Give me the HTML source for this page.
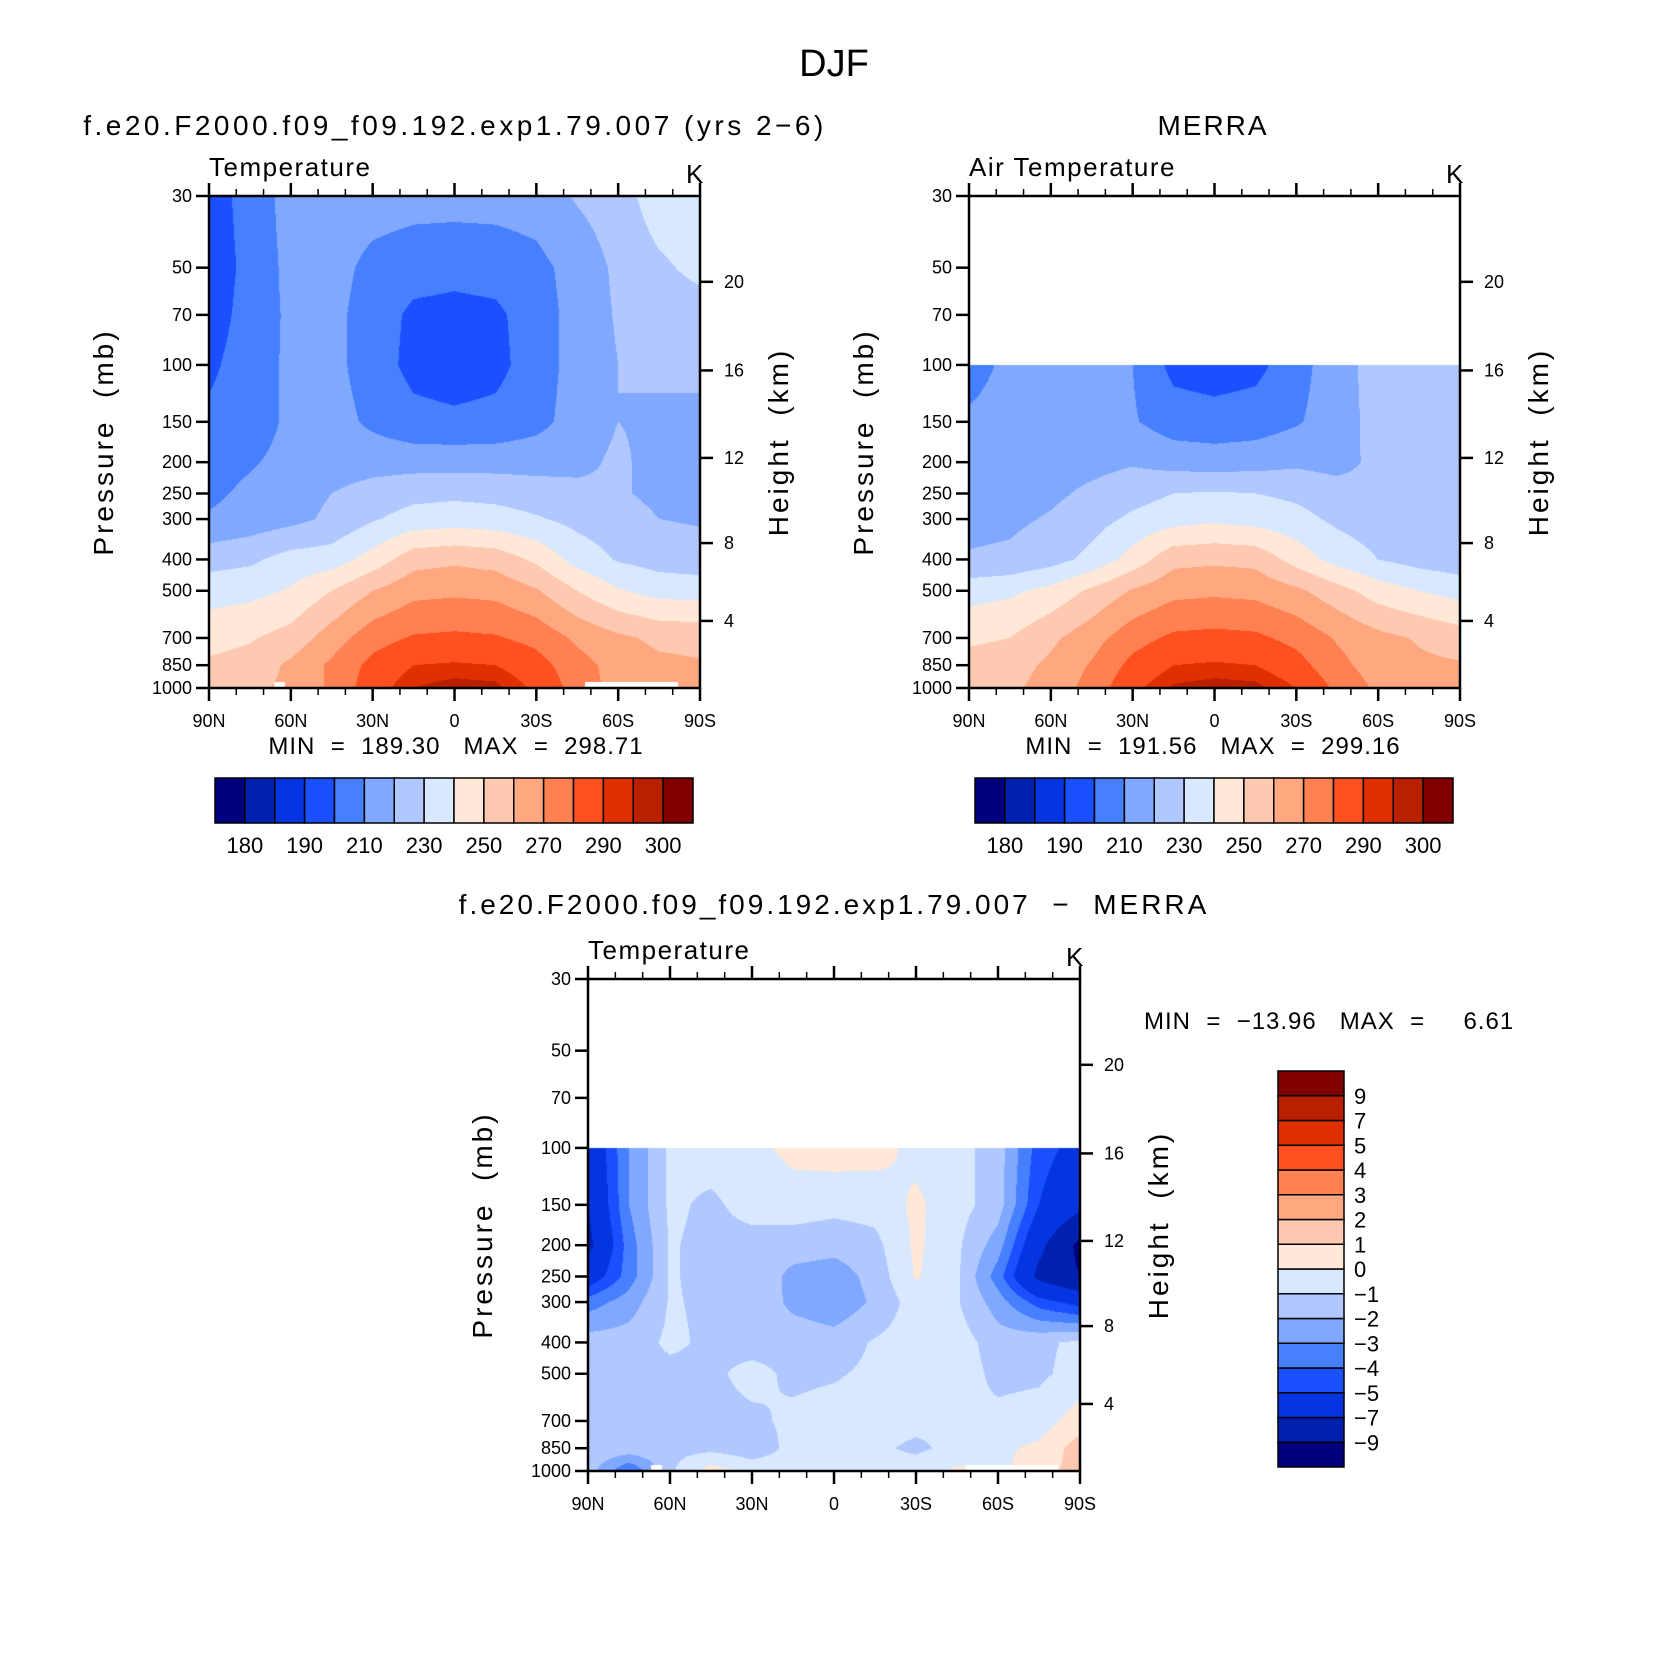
<!DOCTYPE html>
<html><head><meta charset="utf-8"><style>
html,body{margin:0;padding:0;background:#fff;}
#root{position:relative;width:1663px;height:1666px;overflow:hidden;font-family:"Liberation Sans",sans-serif;}
canvas{position:absolute;}
svg{position:absolute;left:0;top:0;}
text{white-space:pre;}
</style></head><body>
<div id="root">
<canvas id="c1"></canvas>
<canvas id="c2"></canvas>
<canvas id="c3"></canvas>
<svg id="svg" width="1663" height="1666"></svg>
</div>
<script>
// ---- data ----
const lats = [90,75,60,45,30,15,0,-15,-30,-45,-60,-75,-90];
const modelLevels = [30,50,70,100,150,200,250,300,400,500,700,850,1000];
const modelT = [
 [195,204,214,216,215,214,214,214,215,221,225,236,238],
 [194,203,213,214,207,204,203,204,207,214,222,228,233],
 [195,204,212,213,205,198,197,198,205,214,221,224,225],
 [198,205,212,213,205,197,195,197,205,214,220,222,223],
 [202,205,212,214,208,203,202,203,207,214,220,218,217],
 [206,209,213,215,216,216,216,216,216,217,222,216,215],
 [208,212,216,220,224,227,228,227,225,223,221,218,217],
 [211,214,217,222,229,234,235,234,231,227,224,220,219],
 [226,228,234,235,244,256,258,256,248,236,229,226,224],
 [236,237,241,250,260,267,268,267,261,250,241,236,236],
 [246,249,254,265,276,281,282,281,277,268,262,258,257],
 [252,254,262,272,283,290,291,290,284,274,266,262,261],
 [257,258,262,272,286,295,298,297,288,276,266,262,262]
];
const merraLevels = [100,150,200,250,300,400,500,700,850,1000];
const merraT = [
 [205,213,216,216,210,197,195,197,206,216,224,226,226],
 [212,215,215,215,211,205,204,205,209,215,224,225,225],
 [214,215,216,217,219,216,215,216,218,216,223,225,225],
 [215,216,218,222,226,230,231,230,228,225,223,222,222],
 [217,218,221,226,232,236,238,236,233,228,225,223,220],
 [221,222,226,233,244,257,258,257,246,236,230,226,224],
 [236,238,243,252,261,267,268,267,262,254,245,240,236],
 [248,250,258,266,276,282,283,282,277,269,263,259,255],
 [254,256,262,271,283,290,291,290,284,273,265,262,261],
 [257,258,264,274,288,296,298,297,290,278,268,263,262]
];
const diffLevels = [100,150,200,250,300,400,500,700,850,1000];
const diffT = [
 [-6.5,-3,-0.8,-0.5,-0.3,0.3,0.5,0.4,-0.3,-0.6,-1.5,-4.5,-5.5],
 [-7,-3,-0.8,-1.2,-0.6,-0.5,-0.7,-0.6,0.2,-0.6,-1.5,-5,-6.5],
 [-7.5,-3.5,-0.9,-1.3,-1.4,-1.5,-1.6,-1.3,0.2,-0.8,-2.5,-6.5,-9.5],
 [-6,-3.5,-0.9,-1.3,-1.2,-2.3,-2.6,-1.6,0.1,-0.8,-3.5,-7.5,-9],
 [-3.5,-2.5,-0.9,-1.2,-1.1,-2.3,-2.8,-1.8,-0.5,-0.9,-2.5,-4.5,-5.5],
 [-1.5,-1.5,-0.8,-1.2,-1.4,-1.3,-1.5,-0.9,-0.5,-0.5,-1.5,-1.2,-0.8],
 [-1.3,-1.3,-1.3,-1.2,-0.7,-1.2,-1.1,-0.8,-0.9,-0.4,-1.3,-1.2,-0.6],
 [-1.3,-1.4,-1.4,-1.3,-1.2,-0.8,-0.6,-0.6,-0.7,-0.9,-0.7,-0.5,0.5],
 [-1.2,-1.3,-1.3,-1.3,-1.6,-0.7,-0.6,-0.8,-1.2,-0.7,-0.2,0.2,1.5],
 [-1.5,-4,-1.2,0.5,-0.4,-0.5,-0.5,-0.5,-0.5,0.2,-0.2,0.5,1.5]
];
const tempBounds = [180,185,190,200,210,220,230,240,250,260,270,280,290,295,300];
const tempLabels = ["180","190","210","230","250","270","290","300"];
const diffBounds = [-9,-7,-5,-4,-3,-2,-1,0,1,2,3,4,5,7,9];
const diffLabels = ["−9","−7","−5","−4","−3","−2","−1","0","1","2","3","4","5","7","9"];
const palette = ["#00007f","#0020b0","#0535e0","#1a50ff","#4680ff","#80a8ff","#b0c8ff","#d8e8ff","#ffe8d8","#ffc8b0","#ffa880","#ff8050","#ff5020","#e03000","#b82000","#800000"];
const pTicks = [30,50,70,100,150,200,250,300,400,500,700,850,1000];
const latTicks = [90,60,30,0,-30,-60,-90];
const latTickLabels = ["90N","60N","30N","0","30S","60S","90S"];
const heightTickP = [55.3,104,194,356,620];
const heightTickLabels = ["20","16","12","8","4"];
// missing-data masks [latFrom, latTo, pFrom, pTo]
const modelMask = [[66,62,960,1000],[-48,-82,960,1000]];
const merraMask = [];
const diffMask = [[67,63,960,1000],[-48,-82,960,1000]];

const NS="http://www.w3.org/2000/svg";
const svg=document.getElementById('svg');
function mk(tag,attrs,name,inter,txt){
  const e=document.createElementNS(NS,tag);
  for(const k in attrs)e.setAttribute(k,attrs[k]);
  
  
  if(txt!==undefined)e.textContent=txt;
  svg.appendChild(e);return e;
}
function hex(c){return [parseInt(c.substr(1,2),16),parseInt(c.substr(3,2),16),parseInt(c.substr(5,2),16)];}
const palRGB=palette.map(hex);
function binOf(v,b){let i=0;while(i<b.length&&v>=b[i])i++;return i;}

function drawPlot(cid,X0,Y0,W,H,levels,field,bounds,masks,opts){
  const xOf=lat=>X0+(90-lat)/180*W;
  const L0=Math.log10(30),L1=Math.log10(1000);
  const yOf=p=>Y0+(Math.log10(p)-L0)/(L1-L0)*H;
  const cv=document.getElementById(cid);
  cv.width=W;cv.height=H;cv.style.left=X0+'px';cv.style.top=Y0+'px';
  const ctx=cv.getContext('2d');const img=ctx.createImageData(W,H);
  const logL=levels.map(p=>Math.log10(p));
  for(let py=0;py<H;py++){
    const lp=L0+(py+0.5)/H*(L1-L0);const p=Math.pow(10,lp);
    let valid=lp>=logL[0]-1e-9;let j=0,fy=0;
    if(valid){j=0;while(j<logL.length-2&&lp>logL[j+1])j++;fy=Math.min(1,Math.max(0,(lp-logL[j])/(logL[j+1]-logL[j])));}
    for(let px=0;px<W;px++){
      const idx=(py*W+px)*4;let col=[255,255,255];
      if(valid){
        const lat=90-(px+0.5)/W*180;
        let masked=false;
        for(const m of masks){if(lat<=m[0]&&lat>=m[1]&&p>=m[2]&&p<=m[3])masked=true;}
        if(!masked){
          const fx=(90-lat)/15;let i=Math.min(lats.length-2,Math.floor(fx));const tx=fx-i;
          const a=field[j][i]*(1-tx)+field[j][i+1]*tx;
          const b=field[j+1][i]*(1-tx)+field[j+1][i+1]*tx;
          col=palRGB[binOf(a*(1-fy)+b*fy,bounds)];
        }
      }
      img.data[idx]=col[0];img.data[idx+1]=col[1];img.data[idx+2]=col[2];img.data[idx+3]=255;
    }
  }
  ctx.putImageData(img,0,0);
  mk('rect',{x:X0,y:Y0,width:W,height:H,fill:'none',stroke:'#000','stroke-width':2.5},opts.id+'-frame',false);
  pTicks.forEach(p=>{
    const y=yOf(p);
    mk('line',{x1:X0-13,x2:X0,y1:y,y2:y,stroke:'#000','stroke-width':2.5},opts.id+'-pressure-tick',false);
    mk('text',{x:X0-17,y:y+6,'text-anchor':'end','font-size':18},opts.id+'-pressure-label',false,String(p));
  });
  for(let lat=90;lat>=-90;lat-=10){
    const x=xOf(lat);const major=lat%30===0;const len=major?13:7;
    mk('line',{x1:x,x2:x,y1:Y0+H,y2:Y0+H+len,stroke:'#000','stroke-width':major?2.5:1.5},opts.id+'-lat-tick',false);
    mk('line',{x1:x,x2:x,y1:Y0,y2:Y0-len,stroke:'#000','stroke-width':major?2.5:1.5},opts.id+'-top-tick',false);
  }
  latTicks.forEach((lat,k)=>{
    mk('text',{x:xOf(lat),y:Y0+H+39,'text-anchor':'middle','font-size':18},opts.id+'-lat-label',false,latTickLabels[k]);
  });
  heightTickP.forEach((p,k)=>{
    const y=yOf(p);
    mk('line',{x1:X0+W,x2:X0+W+13,y1:y,y2:y,stroke:'#000','stroke-width':2.5},opts.id+'-height-tick',false);
    mk('text',{x:X0+W+24,y:y+6,'font-size':18},opts.id+'-height-label',false,heightTickLabels[k]);
  });
  mk('text',{x:X0,y:Y0-20,'font-size':26,'letter-spacing':1.5},opts.id+'-variable-label',false,opts.varName);
  mk('text',{x:X0+W-14,y:Y0-13,'font-size':26},opts.id+'-units-label',false,'K');
  const cy=Y0+H*0.5;
  mk('text',{x:0,y:0,'font-size':28,'text-anchor':'middle','letter-spacing':3,transform:`translate(${X0-96},${cy}) rotate(-90)`},opts.id+'-y-axis-title',false,'Pressure  (mb)');
  mk('text',{x:0,y:0,'font-size':28,'text-anchor':'middle','letter-spacing':3,transform:`translate(${X0+W+88},${cy}) rotate(-90)`},opts.id+'-right-axis-title',false,'Height  (km)');
}

function hColorbar(id,X0,Y0,W,H){
  const bw=W/palette.length;
  palette.forEach((c,i)=>mk('rect',{x:X0+i*bw,y:Y0,width:bw,height:H,fill:c,stroke:'#000','stroke-width':1.5},id+'-box',false));
  tempLabels.forEach((t,k)=>mk('text',{x:X0+(2*k+1)*bw,y:Y0+H+30,'text-anchor':'middle','font-size':22},id+'-label',false,t));
}

mk('text',{x:834,y:76,'text-anchor':'middle','font-size':38},'main-title',false,'DJF');
mk('text',{x:455,y:135,'text-anchor':'middle','font-size':28,'letter-spacing':3.5},'model-title',false,'f.e20.F2000.f09_f09.192.exp1.79.007 (yrs 2−6)');
mk('text',{x:1213,y:135,'text-anchor':'middle','font-size':28,'letter-spacing':2},'merra-title',false,'MERRA');
mk('text',{x:834,y:914,'text-anchor':'middle','font-size':28,'letter-spacing':3},'difference-title',false,'f.e20.F2000.f09_f09.192.exp1.79.007  −  MERRA');

drawPlot('c1',209,196,491,492,modelLevels,modelT,tempBounds,modelMask,{id:'model',varName:'Temperature'});
drawPlot('c2',969,196,491,492,merraLevels,merraT,tempBounds,merraMask,{id:'merra',varName:'Air Temperature'});
drawPlot('c3',588,979,492,492,diffLevels,diffT,diffBounds,diffMask,{id:'diff',varName:'Temperature'});

mk('text',{x:456,y:754,'text-anchor':'middle','font-size':24,'letter-spacing':1},'model-min-max',false,'MIN  =  189.30   MAX  =  298.71');
mk('text',{x:1213,y:754,'text-anchor':'middle','font-size':24,'letter-spacing':1},'merra-min-max',false,'MIN  =  191.56   MAX  =  299.16');
mk('text',{x:1144,y:1029,'font-size':24,'letter-spacing':1},'diff-min-max',false,'MIN  =  −13.96   MAX  =     6.61');

hColorbar('model-colorbar',215,778,478,45);
hColorbar('merra-colorbar',975,778,478,45);

(function(){
  const X0=1278,Y0=1071,W=66,Hh=396;const bh=Hh/palette.length;
  palette.forEach((c,i)=>mk('rect',{x:X0,y:Y0+(palette.length-1-i)*bh,width:W,height:bh,fill:c,stroke:'#000','stroke-width':1.5},'diff-colorbar-box',false));
  diffLabels.forEach((t,k)=>mk('text',{x:X0+W+10,y:Y0+Hh-(k+1)*bh+8,'font-size':22},'diff-colorbar-label',false,t));
})();
</script>
</body></html>
